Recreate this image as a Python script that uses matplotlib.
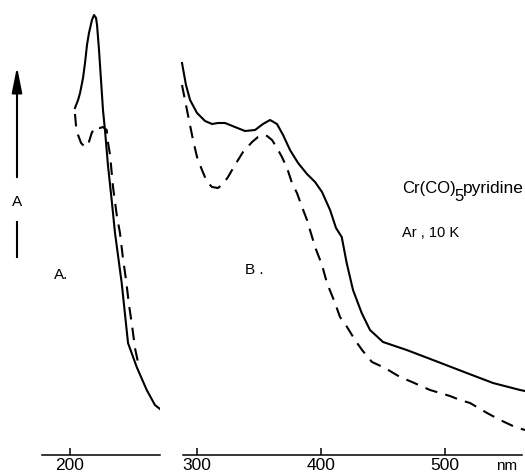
import numpy as np
import matplotlib.pyplot as plt
from matplotlib.lines import Line2D
from matplotlib.patches import FancyArrowPatch

plt.rcParams['font.family'] = ['Liberation Sans', 'DejaVu Sans']

# panel A (short wavelength), nm vs absorbance (arbitrary units)
a_solid_nm = [204.0, 206.5, 208.1, 210.5, 212.1, 213.7, 215.3, 217.7, 219.4, 221.0, 221.8,
              223.4, 225.0, 226.6, 228.2, 230.6, 233.6, 236.3, 241.7, 246.8, 253.8, 261.9,
              268.5, 272.6]
a_solid_abs = [3.47, 3.55, 3.62, 3.77, 3.92, 4.10, 4.22, 4.35, 4.40, 4.37, 4.30,
               4.05, 3.75, 3.45, 3.25, 2.90, 2.55, 2.22, 1.72, 1.12, 0.88, 0.65,
               0.50, 0.46]
a_dash_nm = [204.0, 204.8, 206.5, 208.9, 212.1, 214.5, 217.5, 220.2, 224.2, 226.6, 229.6,
             230.6, 232.3, 234.7, 237.7, 240.3, 242.7, 245.2, 247.6, 250.0, 252.4, 254.8,
             256.5]
a_dash_abs = [3.41, 3.30, 3.20, 3.12, 3.08, 3.10, 3.22, 3.28, 3.27, 3.28, 3.25,
              3.13, 3.00, 2.68, 2.40, 2.22, 1.97, 1.75, 1.50, 1.30, 1.07, 0.93,
              0.88]

# panel B (visible)
b_solid_nm = [287.9, 291.1, 294.4, 300.0, 306.5, 312.1, 316.9, 322.6, 330.6, 338.7, 346.8,
              353.2, 358.9, 364.5, 369.4, 375.0, 381.5, 388.7, 395.2, 400.8, 407.3, 412.1,
              416.7, 420.7, 425.8, 432.8, 439.5, 450.0, 469.1, 490.3, 517.5, 538.7, 560.5,
              564.5]
b_solid_abs = [3.92, 3.70, 3.55, 3.42, 3.34, 3.31, 3.32, 3.32, 3.28, 3.24, 3.25,
               3.31, 3.35, 3.31, 3.20, 3.05, 2.92, 2.81, 2.73, 2.63, 2.45, 2.27,
               2.18, 1.92, 1.65, 1.42, 1.25, 1.13, 1.05, 0.95, 0.82, 0.72, 0.65,
               0.64]
b_dash_nm = [287.9, 290.3, 292.7, 296.8, 300.0, 304.0, 308.1, 312.1, 316.9, 321.0, 325.0,
             330.6, 337.1, 344.4, 349.2, 353.2, 356.5, 360.5, 364.5, 368.5, 372.6, 376.6,
             380.6, 384.7, 388.7, 395.2, 400.8, 404.8, 411.3, 415.3, 421.0, 427.4, 433.1,
             441.1, 451.6, 463.7, 473.4, 487.9, 496.0, 504.0, 512.1, 520.2, 533.9, 544.4,
             556.5, 564.5]
b_dash_abs = [3.70, 3.55, 3.40, 3.15, 2.98, 2.85, 2.73, 2.68, 2.67, 2.71, 2.78,
              2.90, 3.03, 3.13, 3.18, 3.20, 3.19, 3.15, 3.07, 2.98, 2.87, 2.72,
              2.62, 2.48, 2.35, 2.08, 1.90, 1.72, 1.52, 1.38, 1.28, 1.15, 1.05,
              0.93, 0.87, 0.78, 0.73, 0.65, 0.62, 0.59, 0.55, 0.52, 0.42, 0.35,
              0.28, 0.25]

a_ticks = [200]
b_ticks = [300, 400, 500]

W, H = 525, 472
fig = plt.figure(figsize=(W / 100, H / 100), dpi=100)
bottom = (H - 455) / H

axA = fig.add_axes([42 / W, bottom, (160 - 42) / W, 1 - bottom])
axB = fig.add_axes([183 / W, bottom, (525 - 183) / W, 1 - bottom])

dash = (0, (6, 4))
lw = 1.5
kw = dict(color='black', lw=lw, solid_joinstyle='round', dash_joinstyle='round')
axA.plot(a_solid_nm, a_solid_abs, **kw)
axA.plot(a_dash_nm, a_dash_abs, linestyle=dash, **kw)
axB.plot(b_solid_nm, b_solid_abs, clip_on=False, **kw)
axB.plot(b_dash_nm, b_dash_abs, linestyle=dash, clip_on=False, **kw)

axA.set_xlim(177.4, 272.6)
axB.set_xlim(288.7, 564.5)
axB.spines['bottom'].set_bounds(288.7, 562.1)

for ax, ticks in ((axA, a_ticks), (axB, b_ticks)):
    ax.set_ylim(0, 4.55)
    for s in ('left', 'right', 'top'):
        ax.spines[s].set_visible(False)
    ax.spines['bottom'].set_linewidth(1.1)
    ax.set_yticks([])
    ax.set_xticks(ticks)
    ax.tick_params(axis='x', direction='in', length=5, width=1.1, labelsize=12.5, pad=2)
    ax.patch.set_visible(False)

# absorbance arrow on the left
fig.add_artist(Line2D([17 / W, 17 / W], [(H - 222) / H, (H - 257) / H],
                      transform=fig.transFigure, color='black', lw=1.5))
fig.patches.append(FancyArrowPatch((17, H - 180), (17, H - 64), transform=None,
                                   arrowstyle='-|>,head_length=1.1,head_width=0.22',
                                   mutation_scale=14, color='black', lw=1.5))
fig.text(17 / W, (H - 202) / H, 'A', ha='center', va='center', fontsize=11)

fig.text(61 / W, (H - 275) / H, 'A.', ha='center', va='center', fontsize=11)
fig.text(254 / W, (H - 270) / H, 'B .', ha='center', va='center', fontsize=11)

# compound label with a large, lowered subscript
fig.text(402 / W, (H - 193) / H, 'Cr(CO)', ha='left', va='baseline', fontsize=12)
fig.text(454 / W, (H - 201) / H, '5', ha='left', va='baseline', fontsize=12)
fig.text(463 / W, (H - 193) / H, 'pyridine', ha='left', va='baseline', fontsize=12.5)
fig.text(402 / W, (H - 237) / H, 'Ar , 10 K', ha='left', va='baseline', fontsize=10.5)
fig.text(507 / W, (H - 470) / H, 'nm', ha='center', va='baseline', fontsize=11)

fig.savefig('out.png', dpi=100)
